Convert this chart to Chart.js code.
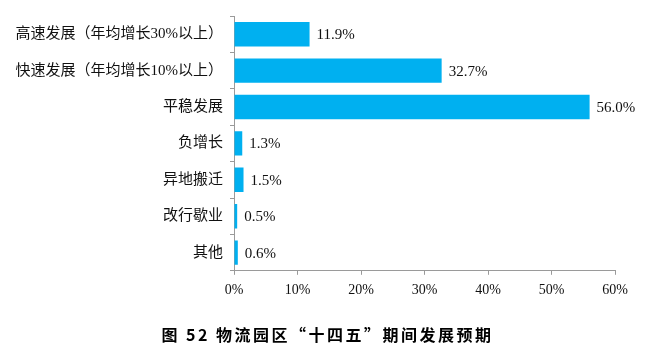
<!DOCTYPE html>
<html>
<head>
<meta charset="utf-8">
<script src="https://cdn.jsdelivr.net/npm/chart.js@4.4.0/dist/chart.umd.min.js"></script>
<style>
html,body{margin:0;padding:0;background:#fff;}
#wrap{width:660px;height:360px;position:relative;}
</style>
</head>
<body>
<div id="wrap"><canvas id="c" width="660" height="360"></canvas></div>
<script>
const categories = ["高速发展（年均增长30%以上）","快速发展（年均增长10%以上）","平稳发展","负增长","异地搬迁","改行歇业","其他"];
const shares = [11.9, 32.7, 56.0, 1.3, 1.5, 0.5, 0.6];
const xTicks = [0, 10, 20, 30, 40, 50, 60];
const chartTitle = "图 52 物流园区“十四五”期间发展预期";

const labelFont = {family: "'Liberation Serif', 'Noto Sans CJK SC', serif", size: 14};
const catFont = {family: "'Liberation Serif', 'Noto Sans CJK SC', serif", size: 15};

const valueLabels = {
  id: 'valueLabels',
  afterDatasetsDraw(chart) {
    const ctx = chart.ctx;
    const meta = chart.getDatasetMeta(0);
    ctx.save();
    ctx.font = "15px 'Liberation Serif', serif";
    ctx.fillStyle = '#111';
    ctx.textAlign = 'left';
    ctx.textBaseline = 'middle';
    meta.data.forEach((bar, i) => {
      ctx.fillText(shares[i].toFixed(1) + '%', bar.x + 7, bar.y + 1);
    });
    ctx.restore();
  }
};

const titleSpacing = {
  id: 'titleSpacing',
  afterLayout(chart) {
    const tb = chart.titleBlock;
    if (tb && !tb._wrapped) {
      const orig = tb.draw.bind(tb);
      tb.draw = function() {
        const ctx = chart.ctx;
        ctx.save();
        ctx.letterSpacing = '2.5px';
        ctx.translate(20, 0);
        orig();
        ctx.restore();
      };
      tb._wrapped = true;
    }
  }
};

new Chart(document.getElementById('c'), {
  type: 'bar',
  data: {
    labels: categories,
    datasets: [{
      data: shares,
      backgroundColor: '#00B0F0',
      borderWidth: 0,
      barPercentage: 0.67,
      categoryPercentage: 1.0
    }]
  },
  options: {
    indexAxis: 'y',
    responsive: false,
    animation: false,
    layout: {padding: {left: 0, right: 45, top: 16, bottom: 0}},
    plugins: {
      legend: {display: false},
      tooltip: {enabled: false},
      title: {
        display: true,
        text: chartTitle,
        position: 'bottom',
        color: '#000',
        font: {family: "'Noto Sans CJK SC', sans-serif", size: 16, weight: 'bold'},
        padding: {top: 27, bottom: 15}
      }
    },
    scales: {
      x: {
        min: 0, max: 60,
        afterBuildTicks(scale) { scale.ticks = xTicks.map(v => ({value: v})); },
        afterFit(scale) { scale.height = 28; },
        border: {display: true, color: '#9a9a9a', width: 1},
        grid: {display: true, drawOnChartArea: false, drawTicks: true, tickLength: 4, color: '#9a9a9a'},
        ticks: {
          color: '#111', font: labelFont, padding: 7,
          callback: v => v + '%'
        }
      },
      y: {
        afterFit(scale) { scale.width = 234; scale.paddingTop = 0; scale.paddingBottom = 0; },
        border: {display: true, color: '#9a9a9a', width: 1},
        grid: {display: true, offset: true, drawOnChartArea: false, drawTicks: true, tickLength: 4, color: '#9a9a9a'},
        ticks: {color: '#111', font: catFont, padding: 7}
      }
    }
  },
  plugins: [valueLabels, titleSpacing]
});
</script>
</body>
</html>
